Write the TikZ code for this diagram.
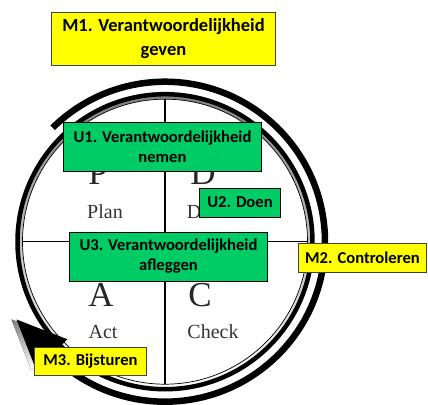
\documentclass[tikz,border=0pt]{standalone}
\usepackage{fontspec}
\usepackage{xcolor}
\usetikzlibrary{positioning,calc}
\newfontfamily\boxfont{Carlito}
\newfontfamily\pdcafont{Liberation Serif}
\definecolor{signal}{HTML}{FFFF00}
\definecolor{leaf}{HTML}{00CC66}
\definecolor{rim}{HTML}{404040}
\definecolor{shade}{HTML}{C8C8C8}

\begin{document}
\begin{tikzpicture}[
  x=1bp,y=1bp,
  mbox/.style={draw=rim,line width=0.8bp,fill=signal,align=center,inner sep=0pt,
    font=\boxfont\bfseries\fontsize{16.6bp}{20bp}\selectfont},
  ubox/.style={draw=black,line width=0.8bp,fill=leaf,align=center,inner sep=0pt,
    font=\boxfont\bfseries\fontsize{16.6bp}{20bp}\selectfont},
  letter/.style={inner sep=0pt,font=\pdcafont\fontsize{35bp}{35bp}\selectfont,text=black!85},
  word/.style={inner sep=0pt,font=\pdcafont\fontsize{20bp}{20bp}\selectfont,text=black!80},
  divider/.style={line width=1.1bp,draw=black},
  loop/.style={line width=6.5bp,draw=black}
]
\useasboundingbox (0,0) rectangle (428,405);
\coordinate (o) at (165,163.3);

% PDCA wheel
\draw[shade,line width=4.5bp] (o) circle[radius=147.5];
\draw[fill=white,line width=0.7bp] (o) circle[radius=142.5];
\draw[divider] ($(o)+(0,142.5)$) -- ($(o)+(0,-142.5)$);
\draw[divider] ($(o)+(-142.5,0)$) -- ($(o)+(142.5,0)$);

\node[letter] (p) at (98,232) {P};
\node[word] (plan) at (105,193) {Plan};
\node[letter] (d) at (203,232) {D};
\node[word] (do) at (199,193) {Do};
\node[letter] (a) at (101,110) {A};
\node[word] (act) at (103,73) {Act};
\node[letter] (c) at (200,110) {C};
\node[word] (check) at (213,73) {Check};

% cycle arrow
\coordinate (s) at ($(o)+(134.6:160)$);
\coordinate (b) at ($(o)+(225:160)$);
\coordinate (tip) at ($(b)+(135:50)$);
\coordinate (l) at ($(b)+(45:22)$);
\coordinate (r) at ($(b)+(225:22)$);
\fill[shade] ($(tip)+(-5,0)$) -- ($(l)+(-5,0)$) -- ($(r)+(-5,0)$) -- cycle;
\draw[loop] (s) arc[start angle=134.6,end angle=-135,radius=160];
\fill[black] (tip) -- (l) -- (r) -- cycle;

% roles
\node[mbox,minimum width=225,minimum height=54,font=\boxfont\bfseries\fontsize{18.5bp}{24bp}\selectfont]
  (m1) at (163.5,366) {M1. Verantwoordelijkheid\\geven};
\node[ubox,minimum width=199,minimum height=49] (u1) at (162.5,258.5) {U1. Verantwoordelijkheid\\nemen};
\node[ubox,minimum width=82,minimum height=29] (u2) at (240,202.5) {U2. Doen};
\node[ubox,minimum width=199,minimum height=49] (u3) at (168.5,148.5) {U3. Verantwoordelijkheid\\afleggen};
\node[mbox,minimum width=129,minimum height=29] (m2) at (362.5,147.5) {M2. Controleren};
\node[mbox,minimum width=113,minimum height=28] (m3) at (90.5,44) {M3. Bijsturen};
\end{tikzpicture}
\end{document}
